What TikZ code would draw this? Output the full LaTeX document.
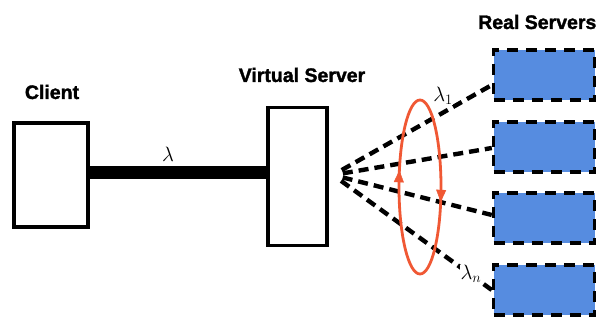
\documentclass[tikz,border=0pt]{standalone}
\usepackage{fontspec}
\setmainfont{Liberation Sans}[BoldFeatures={FakeBold=1.6}]
\usetikzlibrary{arrows.meta,decorations.markings,calc}
\definecolor{srvblue}{RGB}{86,140,224}
\definecolor{ringred}{RGB}{240,88,52}
\tikzset{
  hostbox/.style={draw=black, line width=3.2pt, fill=white, inner sep=0pt},
  realbox/.style={draw=black, line width=3.4pt, fill=srvblue, inner sep=0pt,
    dash pattern=on 11pt off 8pt, minimum width=101pt, minimum height=50pt},
  title/.style={font=\bfseries\fontsize{19.5}{20}\selectfont, inner sep=0pt},
  flow/.style={draw=black, line width=4.4pt, dash pattern=on 10pt off 6pt},
  lam/.style={inner sep=0.5pt, font=\huge},
  ringtip/.tip={Triangle[length=12pt,width=10pt]},
}
\begin{document}
\begin{tikzpicture}[x=1pt,y=-1pt]
  \useasboundingbox (0,0) rectangle (607,320);
  \fill[white] (0,0) rectangle (607,320);

  % client and virtual server
  \node[hostbox, minimum width=74pt, minimum height=104pt] (client) at (51,175) {};
  \node[hostbox, minimum width=59pt, minimum height=138pt] (vs) at (297.5,176.5) {};
  \node[title] (clientlbl) at (52,92) {Client};
  \node[title] (vslbl) at (302,75) {Virtual Server};

  % thick link between them
  \draw[line width=13pt] (client.east |- 0,172.5) -- (vs.west |- 0,172.5);
  \node[lam] (lamc) at (168,154) {$\lambda$};

  % real servers
  \node[realbox] (rs1) at (544,75) {};
  \node[realbox] (rs2) at (544,147) {};
  \node[realbox] (rs3) at (544,218) {};
  \node[realbox] (rs4) at (544,290) {};
  \node[title, anchor=west] (rslbl) at (478,22) {Real Servers};

  % fan of dispatched connections
  \coordinate (hub) at (333,175);
  \coordinate (t1) at (rs1.west |- 0,85);
  \coordinate (t2) at (rs2.west |- 0,148);
  \coordinate (t3) at (rs3.west |- 0,215);
  \coordinate (t4) at (rs4.west |- 0,290);
  \foreach \t in {t1,t2,t3,t4}
    \draw[flow] ($(hub)!10pt!(\t)$) -- (\t);
  \node[lam, fill=white] (lam1) at (443,96) {$\lambda_1$};
  \node[lam, fill=white] (lamn) at (471,274) {$\lambda_n$};

  % round-robin ring
  \draw[ringred, line width=2.8pt] (420,187) ellipse [x radius=21, y radius=87];
  \path[decorate, decoration={markings,
      mark=at position 0.04 with {\arrow[ringred]{ringtip}}}]
    (420,187) ellipse [x radius=21, y radius=87];
  \path[decorate, decoration={markings,
      mark=at position 0.545 with {\arrow[ringred]{ringtip}}}]
    (420,187) ellipse [x radius=21, y radius=87];
\end{tikzpicture}
\end{document}
